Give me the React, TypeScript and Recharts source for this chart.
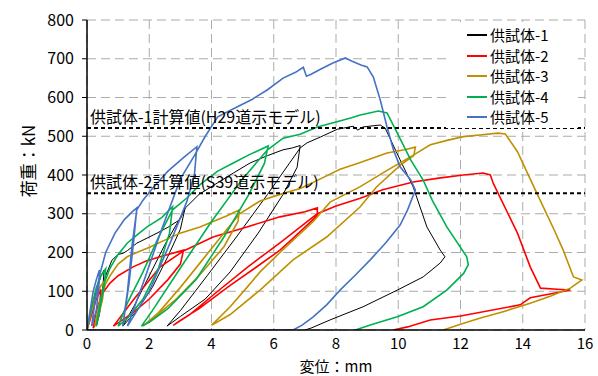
import React from "react";
import {
  LineChart,
  Line,
  XAxis,
  YAxis,
  CartesianGrid,
  ReferenceLine,
} from "recharts";

type Pt = [number, number];

// displacement (mm), load (kN)
const spec1: Pt[] = [
  [0, 0], [0.15, 50], [0.3, 100], [0.45, 140], [0.55, 155], [0.5, 100], [0.4, 40], [0.3, 10],
  [0.45, 80], [0.6, 140], [0.8, 180], [1.0, 195], [1.16, 198], [1.3, 205], [1.6, 224], [2.25, 250],
  [2.6, 265], [2.99, 285], [3.15, 314], [3.0, 260], [2.6, 190], [2.1, 110], [1.6, 50], [1.15, 10],
  [1.5, 60], [2.0, 140], [2.5, 220], [3.0, 290], [3.15, 314], [3.6, 350], [4.18, 379], [4.7, 405],
  [5.24, 431], [5.8, 450], [6.3, 465], [6.6, 470], [6.85, 476], [6.75, 420], [6.3, 350], [5.5, 250],
  [4.6, 150], [3.8, 80], [3.0, 35], [2.57, 10],
  [3.0, 50], [3.86, 140], [4.8, 240], [5.8, 350], [6.5, 430], [6.85, 470], [7.07, 483], [7.5, 498],
  [8.04, 518], [8.24, 521], [8.55, 526], [8.7, 516], [8.87, 524], [9.42, 529], [9.58, 521],
  [10.06, 439], [10.48, 369], [10.92, 266], [11.35, 206], [11.5, 189], [11.35, 173], [10.8, 137],
  [9.97, 103], [8.87, 60], [7.81, 26], [7.2, 5], [7.0, 0],
];

const spec2: Pt[] = [
  [0, 0], [0.15, 40], [0.3, 80], [0.45, 105], [0.4, 60], [0.3, 20], [0.2, 5],
  [0.3, 50], [0.5, 95], [0.74, 121], [1.0, 140], [1.48, 163], [1.9, 178], [2.35, 189], [3.1, 206],
  [3.0, 170], [2.6, 130], [2.0, 80], [1.48, 45], [0.85, 10],
  [1.48, 77], [2.35, 163], [3.1, 204], [4.05, 240], [5.14, 266], [6.2, 292], [7.0, 305], [7.4, 315],
  [7.4, 295], [6.53, 230], [6.2, 206], [5.4, 160], [4.6, 115], [3.6, 55], [3.0, 25], [2.77, 12],
  [3.3, 40], [4.2, 100], [5.2, 165], [6.2, 225], [7.0, 275], [7.4, 300], [8.0, 320], [8.78, 340],
  [9.5, 362], [10.48, 382], [11.3, 392], [12.09, 400], [12.73, 405], [12.96, 400], [13.05, 379],
  [13.83, 250], [14.24, 163], [14.57, 108], [15.1, 105], [15.53, 103], [15.0, 95], [14.24, 83],
  [13.92, 65], [12.0, 36], [11.03, 26], [10.3, 8], [9.84, 0],
];

const spec3: Pt[] = [
  [0, 0], [0.15, 50], [0.3, 90], [0.45, 115], [0.55, 125], [0.5, 80], [0.35, 30], [0.25, 10],
  [0.4, 70], [0.6, 120], [0.74, 140], [1.0, 170], [1.29, 189], [1.6, 200], [2.03, 214], [2.5, 232],
  [2.99, 250], [3.63, 266], [4.05, 280], [4.5, 295], [4.9, 310], [4.85, 280], [4.4, 215], [3.6, 140],
  [2.8, 75], [2.2, 35], [1.8, 10],
  [2.3, 45], [3.0, 110], [3.8, 190], [4.5, 260], [4.9, 300], [5.56, 333], [6.2, 350], [6.85, 365],
  [7.5, 390], [8.13, 415], [8.78, 432], [9.64, 457], [10.2, 465], [10.55, 472], [10.5, 450],
  [10.06, 425], [9.3, 369], [8.78, 318], [7.7, 240], [6.62, 181], [5.56, 103], [4.6, 40], [4.0, 12],
  [4.6, 60], [5.14, 110], [5.56, 150], [6.2, 200], [7.27, 280], [7.81, 330], [8.78, 370],
  [9.6, 410], [10.5, 452], [11.03, 478], [11.6, 490], [12.09, 499], [12.7, 504], [13.2, 508],
  [13.44, 506], [13.83, 460], [14.47, 350], [15.0, 260], [15.3, 206], [15.63, 137], [15.9, 129],
  [15.53, 108], [14.9, 88], [14.24, 69], [13.4, 48], [12.64, 31], [12.0, 15], [11.45, 0],
];

const spec4: Pt[] = [
  [0, 0], [0.15, 60], [0.3, 110], [0.45, 140], [0.6, 158], [0.55, 110], [0.4, 50], [0.3, 10],
  [0.4, 60], [0.55, 120], [0.74, 160], [1.0, 195], [1.29, 224], [1.6, 245], [1.93, 266], [2.4, 290],
  [2.75, 318], [2.65, 250], [2.3, 160], [1.8, 80], [1.3, 30], [1.0, 10],
  [1.3, 70], [1.8, 150], [2.3, 240], [2.75, 310], [3.2, 340], [3.63, 375], [4.2, 410], [4.7, 431],
  [5.2, 452], [5.56, 465], [5.82, 475], [5.7, 430], [5.2, 350], [4.4, 240], [3.5, 130], [2.6, 55],
  [2.0, 20], [1.75, 10],
  [2.1, 50], [3.0, 160], [4.0, 280], [5.0, 390], [5.8, 465], [6.3, 495], [6.85, 505], [7.4, 524],
  [8.0, 537], [8.5, 548], [8.78, 555], [9.36, 565], [9.64, 560], [9.97, 508], [10.4, 439],
  [10.8, 387], [11.09, 335], [11.56, 266], [12.2, 189], [12.25, 168], [12.1, 146], [11.56, 103],
  [10.8, 60], [9.97, 34], [9.1, 13], [8.62, 0],
];

const spec5: Pt[] = [
  [0, 0], [0.1, 50], [0.2, 100], [0.3, 130], [0.4, 155], [0.38, 110], [0.3, 50], [0.15, 10],
  [0.25, 70], [0.4, 140], [0.6, 200], [0.9, 250], [1.2, 285], [1.45, 305], [1.6, 315], [1.5, 230],
  [1.35, 120], [1.15, 10],
  [1.3, 100], [1.45, 220], [1.6, 310], [1.8, 335], [2.1, 365], [2.6, 410], [3.1, 445], [3.53, 473],
  [3.45, 400], [3.2, 330], [2.7, 230], [2.0, 100], [1.3, 10],
  [1.8, 120], [2.4, 260], [3.0, 390], [3.45, 450], [3.8, 500], [4.2, 550], [4.8, 575], [5.3, 595],
  [5.8, 620], [6.3, 650], [6.7, 665], [6.95, 678], [7.05, 655], [7.2, 660], [7.5, 673], [7.9, 689],
  [8.3, 702], [8.5, 694], [8.8, 684], [9.0, 679], [9.2, 653], [9.42, 594], [9.64, 524], [9.85, 464],
  [10.06, 421], [10.4, 387], [10.55, 361], [10.3, 310], [10.06, 271], [9.6, 225], [9.1, 181],
  [8.6, 140], [8.13, 103], [7.7, 65], [7.27, 34], [6.9, 12], [6.62, 0], [0, 0],
];

const seriesNames = ["供試体-1", "供試体-2", "供試体-3", "供試体-4", "供試体-5"];
const seriesData = [spec1, spec2, spec3, spec4, spec5];
const seriesColors = ["#000000", "#FF0000", "#BF9000", "#00B050", "#4472C4"];

const xTicks = [0, 2, 4, 6, 8, 10, 12, 14, 16];
const yTicks = [0, 100, 200, 300, 400, 500, 600, 700, 800];

const refValues = [521, 353];
const refLabels = ["供試体-1計算値(H29道示モデル)", "供試体-2計算値(S39道示モデル)"];

const FONT = "'Noto Sans CJK JP', 'Noto Sans', sans-serif";

const RefLabel = (props: any) => {
  const { viewBox, value } = props;
  return (
    <text x={viewBox.x + 3} y={viewBox.y - 5} fontSize={16} fontFamily={FONT} fill="#000">
      {value}
    </text>
  );
};

const YLabel = (props: any) => {
  const { viewBox } = props;
  const x = viewBox.x + 27;
  const y = viewBox.y + viewBox.height / 2 - 14;
  return (
    <text
      x={x}
      y={y}
      transform={`rotate(-90 ${x} ${y})`}
      textAnchor="middle"
      dominantBaseline="central"
      fontSize={17}
      fontFamily={FONT}
      fill="#000"
    >
      荷重：kN
    </text>
  );
};

const XLabel = (props: any) => {
  const { viewBox } = props;
  return (
    <text
      x={viewBox.x + viewBox.width / 2}
      y={viewBox.y + 35}
      textAnchor="middle"
      dominantBaseline="central"
      fontSize={15}
      fontFamily={FONT}
      fill="#000"
    >
      変位：mm
    </text>
  );
};

const App = () => {
  return (
    <div style={{ position: "absolute", left: 0, top: 0, width: 598, height: 376, background: "#fff" }}>
      <LineChart width={598} height={376} margin={{ top: 20, right: 13, left: 0, bottom: 0 }}>
        <CartesianGrid stroke="#ABABAB" strokeDasharray="9 5" />
        <XAxis
          type="number"
          dataKey="x"
          domain={[0, 16]}
          ticks={xTicks}
          allowDataOverflow
          height={46}
          tickLine={false}
          tickSize={0}
          tickMargin={8}
          axisLine={{ stroke: "#000", strokeWidth: 1.5 }}
          tick={{ fill: "#000", fontSize: 15, fontFamily: FONT }}
          label={<XLabel />}
        />
        <YAxis
          type="number"
          dataKey="y"
          domain={[0, 800]}
          ticks={yTicks}
          allowDataOverflow
          width={87}
          tickSize={5}
          tickMargin={8}
          tickLine={{ stroke: "#000" }}
          axisLine={{ stroke: "#000", strokeWidth: 1.5 }}
          tick={{ fill: "#000", fontSize: 16, fontFamily: FONT }}
          label={<YLabel />}
        />
        {seriesData.map((pts, i) => (
          <Line
            key={seriesNames[i]}
            name={seriesNames[i]}
            data={pts.map(([x, y]) => ({ x, y }))}
            dataKey="y"
            type="linear"
            stroke={seriesColors[i]}
            strokeWidth={i === 0 ? 1 : 1.6}
            dot={false}
            activeDot={false}
            isAnimationActive={false}
          />
        ))}
        {refValues.map((v, i) => (
          <ReferenceLine
            key={v}
            y={v}
            stroke="#000"
            strokeWidth={2}
            strokeDasharray="4 3"
            label={<RefLabel value={refLabels[i]} />}
          />
        ))}
      </LineChart>
      <div
        style={{
          position: "absolute",
          left: 446,
          top: 22,
          width: 132,
          height: 106,
          background: "#fff",
          fontFamily: FONT,
          fontSize: 15,
          paddingTop: 3,
          boxSizing: "border-box",
        }}
      >
        {seriesNames.map((n, i) => (
          <div key={n} style={{ display: "flex", alignItems: "center", height: 20.5, lineHeight: "20px" }}>
            <span
              style={{
                display: "inline-block",
                width: 20,
                height: 2,
                marginLeft: 21,
                marginRight: 3,
                background: seriesColors[i],
              }}
            />
            <span style={{ lineHeight: "20px" }}>{n}</span>
          </div>
        ))}
      </div>
    </div>
  );
};

export default App;
